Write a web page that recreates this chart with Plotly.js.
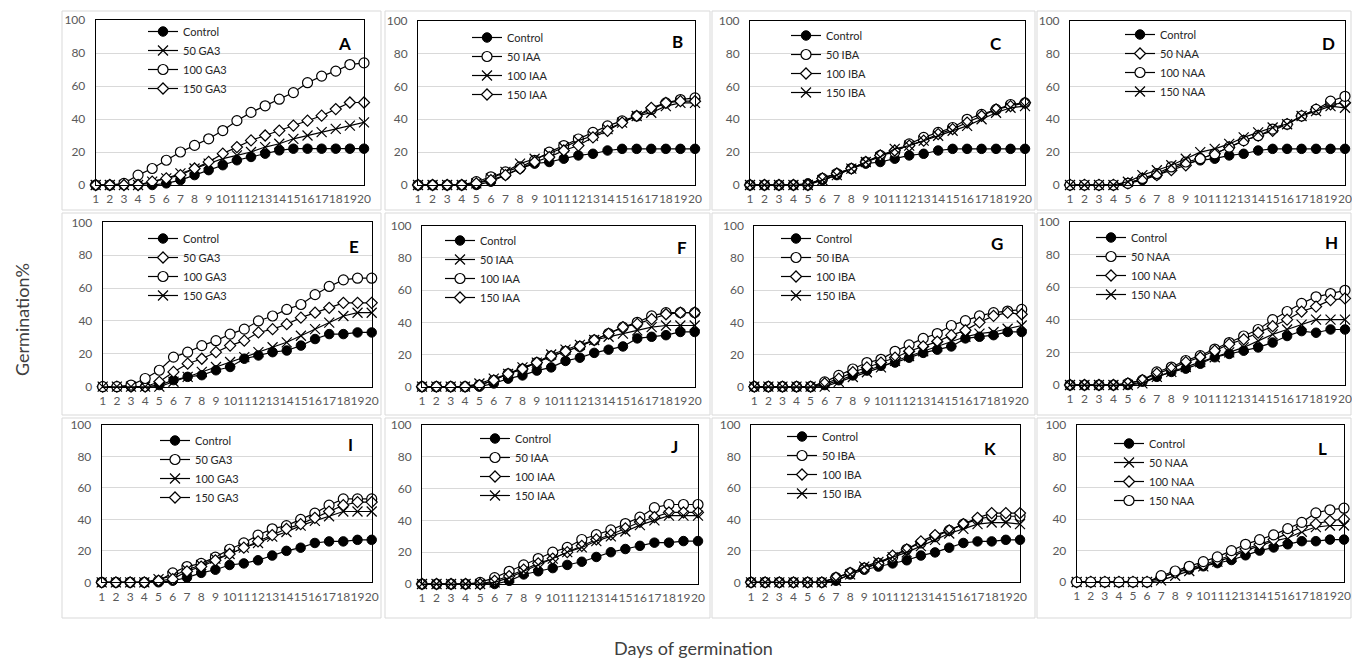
<!DOCTYPE html>
<html><head><meta charset="utf-8">
<script src="https://cdn.plot.ly/plotly-3.0.1.min.js"></script>
<style>html,body{margin:0;padding:0;background:#fff;}#chart{width:1352px;height:660px;}</style>
</head><body><div id="chart"></div>
<script>
const days = [1,2,3,4,5,6,7,8,9,10,11,12,13,14,15,16,17,18,19,20];
const panelLetters = ['A','B','C','D','E','F','G','H','I','J','K','L'];
const yTicks = [0,20,40,60,80,100];
const yAxisTitle = 'Germination%';
const xAxisTitle = 'Days of germination';

// Panel A
const A_names = ['Control','50 GA3','100 GA3','150 GA3'];
const A_control = [0,0,0,0,0,1,3,6,9,12,15,17,19,21,22,22,22,22,22,22];
const A_50GA3   = [0,0,0,0,2,4,7,10,13,16,18,20,23,25,28,30,32,34,36,38];
const A_100GA3  = [0,0,1,6,10,15,20,24,28,33,39,44,48,52,56,62,66,69,73,74];
const A_150GA3  = [0,0,0,0,2,4,6,10,14,19,23,27,30,33,36,39,42,46,50,50];
// Panel B
const B_names = ['Control','50 IAA','100 IAA','150 IAA'];
const B_control = [0,0,0,0,0,2,6,10,13,14,16,18,19,21,22,22,22,22,22,22];
const B_50IAA   = [0,0,0,0,2,5,8,11,15,20,24,28,32,36,39,42,46,50,52,53];
const B_100IAA  = [0,0,0,0,1,4,8,13,16,19,23,27,30,34,38,42,44,48,50,50];
const B_150IAA  = [0,0,0,0,1,3,6,10,14,17,21,24,29,33,38,42,47,50,51,51];
// Panel C
const C_names = ['Control','50 IBA','100 IBA','150 IBA'];
const C_control = [0,0,0,0,1,3,6,10,13,14,16,18,19,21,22,22,22,22,22,22];
const C_50IBA   = [0,0,0,0,0,4,7,10,14,18,20,25,29,32,35,40,43,46,49,50];
const C_100IBA  = [0,0,0,0,0,4,7,10,14,18,21,24,27,31,34,38,42,46,48,50];
const C_150IBA  = [0,0,0,0,0,3,6,10,14,17,22,24,27,30,33,36,40,44,47,48];
// Panel D
const D_names = ['Control','50 NAA','100 NAA','150 NAA'];
const D_control = [0,0,0,0,1,3,6,10,13,15,16,18,19,21,22,22,22,22,22,22];
const D_50NAA   = [0,0,0,0,1,4,6,9,12,16,19,23,27,30,33,37,42,46,49,50];
const D_100NAA  = [0,0,0,0,1,4,7,11,14,16,19,23,27,30,34,37,42,46,51,54];
const D_150NAA  = [0,0,0,0,2,6,9,12,16,20,22,25,29,32,35,37,42,45,48,47];
// Panel E
const E_names = ['Control','50 GA3','100 GA3','150 GA3'];
const E_control = [0,0,0,0,1,4,6,7,10,12,17,19,21,22,25,29,32,32,33,33];
const E_50GA3   = [0,0,0,0,3,9,14,17,21,25,28,33,35,38,42,45,48,51,51,51];
const E_100GA3  = [0,0,1,5,10,18,21,25,28,32,35,40,43,47,50,56,61,65,66,66];
const E_150GA3  = [0,0,0,0,0,3,6,9,12,15,18,21,24,27,31,35,39,43,45,45];
// Panel F
const F_names = ['Control','50 IAA','100 IAA','150 IAA'];
const F_control = [0,0,0,0,0,2,5,7,10,12,16,18,21,23,25,30,31,32,34,34];
const F_50IAA   = [0,0,0,0,2,5,8,12,15,20,23,26,29,31,33,35,37,38,38,38];
const F_100IAA  = [0,0,0,0,1,4,8,11,15,19,22,25,29,33,37,40,44,46,46,46];
const F_150IAA  = [0,0,0,0,1,4,8,11,15,19,22,25,29,33,37,39,42,45,46,46];
// Panel G
const G_names = ['Control','50 IBA','100 IBA','150 IBA'];
const G_control = [0,0,0,0,0,1,4,7,10,13,15,18,21,23,25,30,31,32,34,34];
const G_50IBA   = [0,0,0,0,0,3,7,11,15,17,22,26,30,33,38,41,44,46,47,48];
const G_100IBA  = [0,0,0,0,0,2,5,9,12,15,18,22,25,28,32,35,40,44,46,45];
const G_150IBA  = [0,0,0,0,0,0,3,6,9,12,16,19,22,25,28,31,33,34,36,38];
// Panel H
const H_names = ['Control','50 NAA','100 NAA','150 NAA'];
const H_control = [0,0,0,0,0,2,5,8,10,13,17,19,21,23,26,30,33,32,34,34];
const H_50NAA   = [0,0,0,0,1,3,8,11,15,18,22,26,30,34,40,45,50,54,56,58];
const H_100NAA  = [0,0,0,0,1,3,7,10,14,17,21,25,28,32,36,40,45,48,52,53];
const H_150NAA  = [0,0,0,0,0,1,5,8,11,14,17,20,23,27,31,34,37,40,40,40];
// Panel I
const I_names = ['Control','50 GA3','100 GA3','150 GA3'];
const I_control = [0,0,0,0,0,1,3,6,8,11,12,14,17,20,22,25,26,26,27,27];
const I_50GA3   = [0,0,0,0,1,6,10,12,16,21,25,30,34,36,40,44,49,53,53,53];
const I_100GA3  = [0,0,0,0,2,4,8,11,15,18,22,25,29,32,36,39,42,45,45,45];
const I_150GA3  = [0,0,0,0,1,2,7,10,14,18,22,26,30,34,37,41,45,49,51,51];
// Panel J
const J_names = ['Control','50 IAA','100 IAA','150 IAA'];
const J_control = [0,0,0,0,0,0,2,6,8,10,12,14,17,20,22,24,26,26,27,27];
const J_50IAA   = [0,0,0,0,1,4,8,12,16,20,23,28,31,34,38,42,48,50,50,50];
const J_100IAA  = [0,0,0,0,0,2,5,9,13,16,20,24,28,31,35,39,42,45,45,45];
const J_150IAA  = [0,0,0,0,0,1,4,8,12,16,20,23,27,30,33,37,40,43,43,43];
// Panel K
const K_names = ['Control','50 IBA','100 IBA','150 IBA'];
const K_control = [0,0,0,0,0,0,1,5,8,10,12,14,17,19,22,25,26,26,27,27];
const K_50IBA   = [0,0,0,0,0,0,3,6,9,12,16,21,25,29,33,37,40,42,42,42];
const K_100IBA  = [0,0,0,0,0,0,3,6,9,12,17,21,26,30,33,37,41,44,44,44];
const K_150IBA  = [0,0,0,0,0,0,1,5,10,13,16,19,23,27,31,34,37,38,38,37];
// Panel L
const L_names = ['Control','50 NAA','100 NAA','150 NAA'];
const L_control = [0,0,0,0,0,0,3,6,8,10,12,14,17,20,22,24,26,26,27,27];
const L_50NAA   = [0,0,0,0,0,0,1,4,7,10,13,16,20,23,26,28,32,35,36,36];
const L_100NAA  = [0,0,0,0,0,0,3,6,9,11,14,17,21,24,27,31,35,37,39,40];
const L_150NAA  = [0,0,0,0,0,0,4,7,10,13,16,20,24,27,30,34,38,44,46,47];

const panelNames = [A_names,B_names,C_names,D_names,E_names,F_names,G_names,H_names,I_names,J_names,K_names,L_names];
const panelSeries = [
  [A_control,A_50GA3,A_100GA3,A_150GA3],
  [B_control,B_50IAA,B_100IAA,B_150IAA],
  [C_control,C_50IBA,C_100IBA,C_150IBA],
  [D_control,D_50NAA,D_100NAA,D_150NAA],
  [E_control,E_50GA3,E_100GA3,E_150GA3],
  [F_control,F_50IAA,F_100IAA,F_150IAA],
  [G_control,G_50IBA,G_100IBA,G_150IBA],
  [H_control,H_50NAA,H_100NAA,H_150NAA],
  [I_control,I_50GA3,I_100GA3,I_150GA3],
  [J_control,J_50IAA,J_100IAA,J_150IAA],
  [K_control,K_50IBA,K_100IBA,K_150IBA],
  [L_control,L_50NAA,L_100NAA,L_150NAA]
];

// ---------- styling / layout ----------
const W = 1352, H = 660;
const FONT = 'Lato, "Liberation Sans", sans-serif';
const SYM = {
  fill: {symbol:'circle', size:9.5, color:'#000', line:{color:'#000', width:1}},
  circ: {symbol:'circle', size:10, color:'#fff', line:{color:'#000', width:1.2}},
  diam: {symbol:'diamond', size:8.5, color:'#fff', line:{color:'#000', width:1.2}},
  x:    {symbol:'x-thin-open', size:10, color:'#000', line:{color:'#000', width:1.2}}
};
const panelSymbols = [
  ['fill','x','circ','diam'],
  ['fill','circ','x','diam'],
  ['fill','circ','diam','x'],
  ['fill','diam','circ','x'],
  ['fill','diam','circ','x'],
  ['fill','x','circ','diam'],
  ['fill','circ','diam','x'],
  ['fill','circ','diam','x'],
  ['fill','circ','x','diam'],
  ['fill','circ','diam','x'],
  ['fill','circ','diam','x'],
  ['fill','x','diam','circ']
];
// plot boxes in pixels: [left, right, top, bottom]
const boxes = [
  [95.7,364,20,185],[418,695,20.7,185],[750,1025,20.7,185],[1070,1345,20.7,185],
  [102.7,371.7,222.3,386.7],[422,694.7,225.7,386.7],[754.3,1021.7,225.7,386.7],[1070,1345,221.7,385],
  [101.7,371.7,425,582.3],[422,698,425,584],[751,1020,425,582.3],[1076.7,1344,425,582]
];
// outer frames [x0,x1,y0,y1]
const colsX = [[62,381],[385,710],[712,1035],[1037,1351]];
const rowsY = [[11,210],[213,415],[418,618]];
// legend: [text start x, first item center y]
const legPos = [[184,31],[508,37],[827,35],[1161,34],[184,238],[481,240],[817,238],[1132,237],[196,440],[516,438],[823,436],[1150,443]];
// panel letters [x, y]
const letterPos = [[344,44],[678,42],[996,43],[1328,43],[354,246],[682,247],[997,244],[1331,242],[350,445],[674,446],[990,448],[1322,448]];

const px = x => x / W;
const py = y => 1 - y / H;

const traces = [];
const layout = {
  width: W, height: H,
  margin: {l:0, r:0, t:0, b:0},
  paper_bgcolor: '#fff', plot_bgcolor: '#fff',
  font: {family: FONT, color: '#595959'},
  shapes: [], annotations: []
};

panelLetters.forEach((letter, i) => {
  const n = i === 0 ? '' : String(i + 1);
  const xa = 'x' + n, ya = 'y' + n;
  const legKey = 'legend' + n;
  const b = boxes[i];
  layout['xaxis' + n] = {
    domain: [px(b[0]), px(b[1])], anchor: ya,
    range: [1, 20], tickmode: 'linear', tick0: 1, dtick: 1, tickangle: 0,
    showgrid: false, zeroline: false, showline: true, mirror: true,
    linecolor: '#000', linewidth: 1, ticks: '',
    tickfont: {family: FONT, size: 12, color: '#595959'}, ticklabelstandoff: 3,
    fixedrange: true
  };
  layout['yaxis' + n] = {
    domain: [py(b[3]), py(b[2])], anchor: xa,
    range: [0, 100], tickmode: 'array', tickvals: yTicks,
    showgrid: true, gridcolor: '#d9d9d9', gridwidth: 1, zeroline: false,
    showline: true, mirror: true, linecolor: '#000', linewidth: 1, ticks: '',
    tickfont: {family: FONT, size: 12, color: '#595959'}, ticklabelstandoff: 7,
    fixedrange: true
  };
  const lp = legPos[i];
  layout[legKey] = {
    x: px(lp[0] - 41), y: py(lp[1] - 14), xanchor: 'left', yanchor: 'top',
    bgcolor: 'rgba(0,0,0,0)', borderwidth: 0, tracegroupgap: 0,
    font: {family: FONT, size: 11, color: '#262626'}, itemclick: false, itemdoubleclick: false
  };
  const names = panelNames[i];
  panelSeries[i].forEach((vals, k) => {
    traces.push({
      type: 'scatter', mode: 'lines+markers',
      x: days, y: vals, name: names[k],
      xaxis: xa, yaxis: ya, legend: legKey, showlegend: true,
      line: {color: '#000', width: 1.2},
      marker: SYM[panelSymbols[i][k]],
      cliponaxis: false, hoverinfo: 'skip'
    });
  });
  layout.annotations.push({
    xref: 'paper', yref: 'paper', x: px(letterPos[i][0]), y: py(letterPos[i][1]),
    xanchor: 'center', yanchor: 'middle', showarrow: false,
    text: '<b>' + letter + '</b>', font: {family: FONT, size: 17, color: '#000'}
  });
  const c = colsX[i % 4], r = rowsY[Math.floor(i / 4)];
  layout.shapes.push({
    type: 'rect', xref: 'paper', yref: 'paper', layer: 'below',
    x0: px(c[0]), x1: px(c[1]), y0: py(r[1]), y1: py(r[0]),
    line: {color: '#d9d9d9', width: 1}, fillcolor: 'rgba(0,0,0,0)'
  });
});

layout.annotations.push({
  xref: 'paper', yref: 'paper', x: px(22), y: py(320), xanchor: 'center', yanchor: 'middle',
  showarrow: false, textangle: -90, text: yAxisTitle, font: {family: FONT, size: 18, color: '#404040'}
});
layout.annotations.push({
  xref: 'paper', yref: 'paper', x: px(693), y: py(648), xanchor: 'center', yanchor: 'middle',
  showarrow: false, text: xAxisTitle, font: {family: FONT, size: 18, color: '#404040'}
});

Plotly.newPlot('chart', traces, layout, {displayModeBar: false, staticPlot: true});
</script></body></html>
